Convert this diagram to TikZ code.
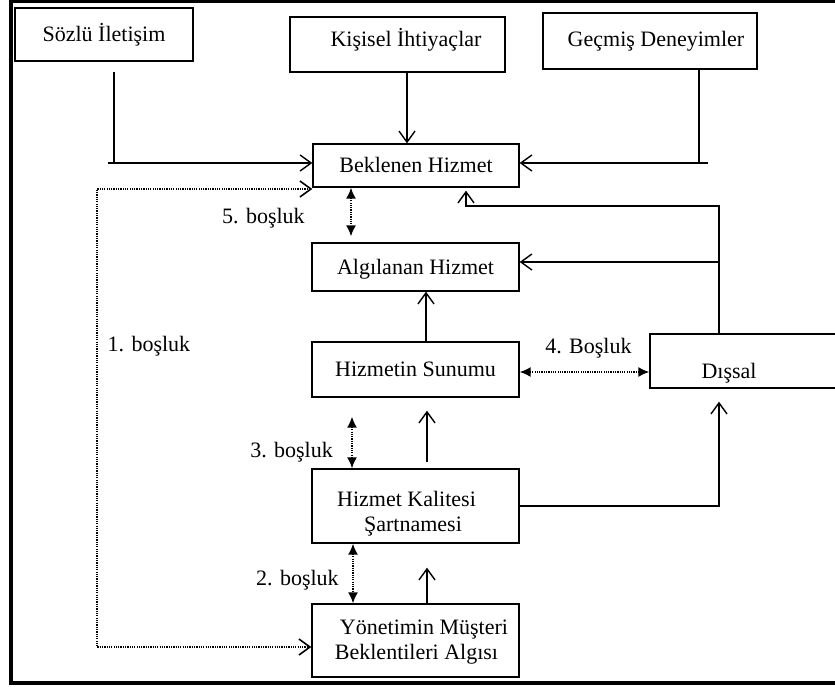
\documentclass[tikz,border=0pt]{standalone}
\usepackage{fontspec}
\setmainfont{Liberation Serif}
\usetikzlibrary{arrows.meta}
\begin{document}
\begin{tikzpicture}[x=1pt,y=-1pt,
  font=\fontsize{22}{26}\selectfont,
  box/.style={draw, line width=1.4pt, inner sep=0pt, text height=14.6pt, text depth=0pt},
  bx/.style 2 args={box, minimum width=#1pt, minimum height=#2pt},
  lbl/.style={inner sep=0pt, text height=14.6pt, text depth=0pt},
  conn/.style={line width=1.4pt},
  gap/.style={line width=1.6pt, dash pattern=on 1.2pt off 1.1pt},
  open/.style={-{Straight Barb[length=11pt,width=16pt]}},
  openboth/.style={{Straight Barb[length=11pt,width=16pt]}-{Straight Barb[length=11pt,width=16pt]}},
  solidboth/.style={{Latex[length=11pt,width=10pt]}-{Latex[length=11pt,width=10pt]}}]

\useasboundingbox (0,0) rectangle (835,686);
\clip (0,0) rectangle (835,686);

% outer frame
\draw[line width=3.2pt] (11,1.8) rectangle (870,683);

% boxes
\node[bx={178}{53}] (soz) at (104,34.5) {Sözlü İletişim};
\node[bx={215}{55}] (kis) at (397.5,44.5) {};
\node[lbl] at (406,39) {Kişisel İhtiyaçlar};
\node[bx={214}{56}] (gec) at (650,41) {};
\node[lbl] at (656,39) {Geçmiş Deneyimler};
\node[bx={206}{43}] (bek) at (416,165.5) {Beklenen Hizmet};
\node[bx={207}{48}] (alg) at (415.5,267) {Algılanan Hizmet};
\node[bx={207}{55}] (sun) at (415.5,369.5) {Hizmetin Sunumu};
\node[bx={207}{74}] (kal) at (415.5,506) {};
\node[lbl] at (406.5,499) {Hizmet Kalitesi};
\node[lbl] at (413,524) {Şartnamesi};
\node[bx={207}{73}] (yon) at (415.5,640.5) {};
\node[lbl] at (424,627) {Yönetimin Müşteri};
\node[lbl] at (416.5,652) {Beklentileri Algısı};
\node[bx={220}{54}] (dis) at (760,361) {};
\node[lbl] at (729,371) {Dışsal};

% gap labels
\node[lbl] at (149,344.5) {1. boşluk};
\node[lbl] at (297.5,578.5) {2. boşluk};
\node[lbl] at (291.5,450) {3. boşluk};
\node[lbl] at (588.5,346.5) {4. Boşluk};
\node[lbl] at (263.5,216.5) {5. boşluk};

% inputs to the expected service
\coordinate (s1) at (114,72);
\coordinate (s0) at (108,163);
\draw[conn] (s1) -- (s1 |- s0);
\draw[conn,open] (s0) -- (s0 -| bek.west);

\coordinate (k0) at (407,0);
\draw[conn,open] (kis.south -| k0) -- (bek.north -| k0);

\coordinate (g0) at (699,0);
\coordinate (g1) at (708,163);
\draw[conn] (gec.south -| g0) -- (g0 |- g1);
\draw[conn,open] (g1) -- (g1 -| bek.east);

% gap 1
\coordinate (d1) at (97,189);
\coordinate (d2) at (97,647);
\draw[gap,openboth] (d1 -| bek.west) -- (d1) -- (d2) -- (d2 -| yon.west);

% gap 5
\coordinate (c5) at (351,0);
\draw[gap,solidboth,shorten >=6pt] (bek.south -| c5) -- (alg.north -| c5);

% delivery to perceived service
\coordinate (c426) at (426,0);
\draw[conn,open] (sun.north -| c426) -- (alg.south -| c426);

% gap 4
\coordinate (c4) at (0,372);
\draw[gap,solidboth] (c4 -| sun.east) -- (c4 -| dis.west);

% gap 3
\coordinate (c352) at (352,0);
\draw[gap,solidboth,shorten <=19pt] (sun.south -| c352) -- (kal.north -| c352);

% specifications to delivery
\coordinate (c427) at (427,0);
\draw[conn,open,shorten >=13pt] ([yshift=6pt]kal.north -| c427) -- (sun.south -| c427);

% gap 2
\coordinate (c353) at (353,0);
\draw[gap,solidboth] (kal.south -| c353) -- (yon.north -| c353);

% management perception to specifications
\draw[conn,open,shorten >=24pt] (yon.north -| c427) -- (kal.south -| c427);

% specifications to external communication
\coordinate (e1) at (719,506);
\draw[conn,open,shorten >=13pt] (kal.east) -- (e1) -- (dis.south -| e1);

% external communication back to expected and perceived service
\coordinate (t1) at (719,206);
\coordinate (t2) at (466,206);
\draw[conn,open,shorten >=3pt] (dis.north -| t1) -- (t1) -- (t2) -- (bek.south -| t2);
\coordinate (t3) at (719,262);
\draw[conn,open] (t3) -- (t3 -| alg.east);

\end{tikzpicture}
\end{document}
